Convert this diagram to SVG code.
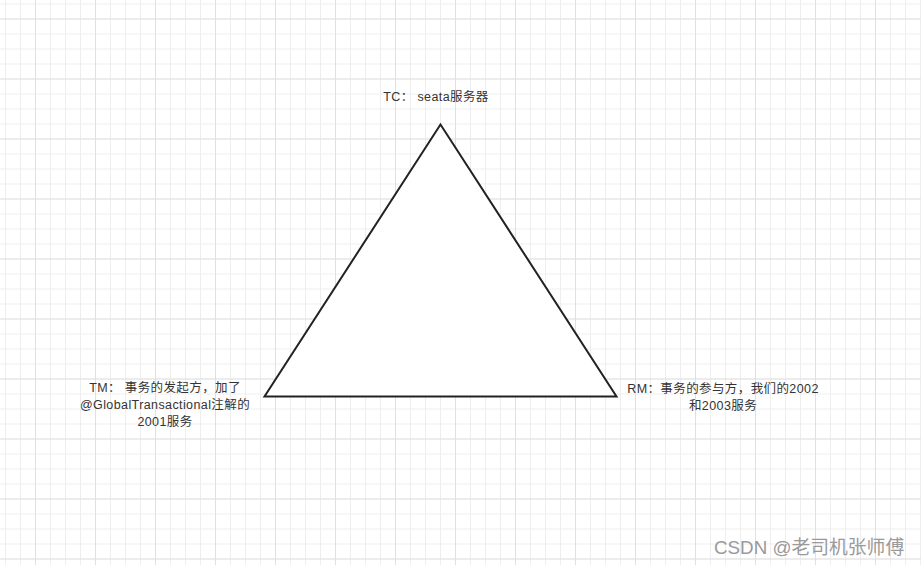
<svg xmlns="http://www.w3.org/2000/svg" width="921" height="565" viewBox="0 0 921 565">
<defs>
<pattern id="minor" x="5" y="3.5" width="15" height="15" patternUnits="userSpaceOnUse">
<path d="M0.5 0V15M0 0.5H15" fill="none" stroke="#eeeeee" stroke-width="1"/>
</pattern>
<pattern id="major" x="35" y="18.5" width="60" height="60" patternUnits="userSpaceOnUse">
<path d="M0.5 0V60M0 0.5H60" fill="none" stroke="#e0e0e0" stroke-width="1"/>
</pattern>
</defs>
<style>
.lbl{font-family:"Liberation Sans","Noto Sans CJK SC",sans-serif;font-size:12.5px;letter-spacing:0.4px;fill:#333;text-anchor:middle}
.wm{font-family:"Liberation Sans","Noto Sans CJK SC",sans-serif;font-size:18.8px;fill:#9a9a9a}
</style>
<rect width="921" height="565" fill="#fff"/>
<rect width="921" height="565" fill="url(#minor)"/>
<rect width="921" height="565" fill="url(#major)"/>
<g id="triangle">
<path d="M440.5 124.5L264.5 396.5H616.5Z" fill="#fff" stroke="#222" stroke-width="2" stroke-linejoin="miter"/>
</g>
<g id="tc">
<text class="lbl" x="436" y="100.5">TC： seata服务器</text>
</g>
<g id="tm">
<text class="lbl" x="165" y="391.5">TM： 事务的发起方，加了</text>
<text class="lbl" x="165" y="408.5">@GlobalTransactional注解的</text>
<text class="lbl" x="165" y="425.5">2001服务</text>
</g>
<g id="rm">
<text class="lbl" x="723" y="392.5">RM：事务的参与方，我们的2002</text>
<text class="lbl" x="723" y="409.5">和2003服务</text>
</g>
<g id="connectors"></g>
<text class="wm" x="714" y="554">CSDN @老司机张师傅</text>
</svg>
